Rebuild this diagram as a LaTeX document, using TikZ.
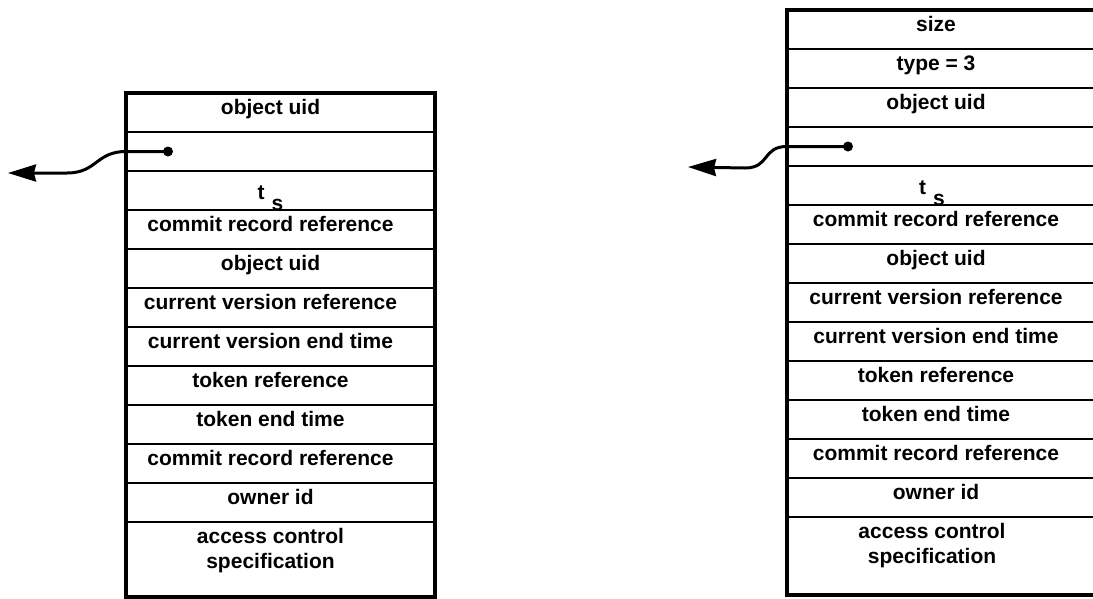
\documentclass[tikz,border=0pt]{standalone}
\usepackage{fontspec}
\setmainfont{Liberation Sans}
\usetikzlibrary{arrows.meta,positioning}

\tikzset{
  cellfont/.style={font=\fontsize{21}{25}\selectfont\bfseries},
  field/.style={draw, line width=2.4pt, minimum width=309pt, minimum height=39pt,
    inner sep=0pt, outer sep=0pt, anchor=north west,
    label={[cellfont, xshift=-10pt, inner sep=1pt, text height=9pt, text depth=5pt]center:#1}},
  field/.default={},
  recframe/.style={line width=3.5pt},
  ptr/.style={line width=3pt, -{Stealth[length=28pt,width=17pt,inset=2pt]}},
  ptrdot/.style={circle, fill, inner sep=0pt, minimum size=10pt},
}

\begin{document}
\begin{tikzpicture}[x=1pt,y=-1pt]
  \clip (0,0) rectangle (1093,598);
  \fill[white] (0,0) rectangle (1093,598);
  % ---- Left record ----
  \begin{scope}[shift={(126,93)}]
    \foreach \txt [count=\i] in {object uid,{},{},commit record reference,object uid,
        current version reference,current version end time,token reference,
        token end time,commit record reference,owner id}{
      \node[field=\txt] (L\i) at (0,39*\i-39) {};
    }
    \node[field, minimum height=75pt, below=0pt of L11] (L12) {};
    \node[cellfont, anchor=north, align=center, inner sep=6pt] (Lacc)
      at ([xshift=-10pt]L12.north) {access control\\specification};
    \node[cellfont, anchor=south, inner sep=0pt] (Lts)
      at ([xshift=-10pt,yshift=-1pt]L3.south) {t\hspace{7pt}\raisebox{-11pt}{s}};
    \draw[recframe] (L1.north west) rectangle (L12.south east);
  \end{scope}
  % pointer out of the left record
  \node[ptrdot] (Ldot) at ([xshift=42pt]L2.west) {};
  \coordinate (Lbend) at (67,173);
  \coordinate (Ltip) at (8,173);
  \draw[ptr] (Ldot.center) -- (L2.west) .. controls +(-30,0) and +(30,0) .. (Lbend) -- (Ltip);
  % ---- Right record (runs past the right edge) ----
  \begin{scope}[shift={(787,10)}, field/.append style={minimum width=318pt}]
    \foreach \txt [count=\i] in {size,type = 3,object uid,{},{},commit record reference,
        object uid,current version reference,current version end time,
        token reference,token end time,commit record reference,owner id}{
      \node[field=\txt] (R\i) at (0,39*\i-39) {};
    }
    \node[field, minimum height=78pt, below=0pt of R13] (R14) {};
    \node[cellfont, anchor=north, align=center, inner sep=6pt] (Racc)
      at ([xshift=-14pt]R14.north) {access control\\specification};
    \node[cellfont, anchor=south, inner sep=0pt] (Rts)
      at ([xshift=-14pt,yshift=-1pt]R5.south) {t\hspace{7pt}\raisebox{-11pt}{s}};
    \draw[recframe] (R1.north west) rectangle (R14.south east);
  \end{scope}
  % pointer out of the right record
  \node[ptrdot] (Rdot) at ([xshift=61pt]R4.west) {};
  \coordinate (Rbend) at (745,168);
  \coordinate (Rtip) at (688,167);
  \draw[ptr] (Rdot.center) -- (R4.west) .. controls +(-25,0) and +(25,0) .. (Rbend) -- (Rtip);
\end{tikzpicture}
\end{document}
